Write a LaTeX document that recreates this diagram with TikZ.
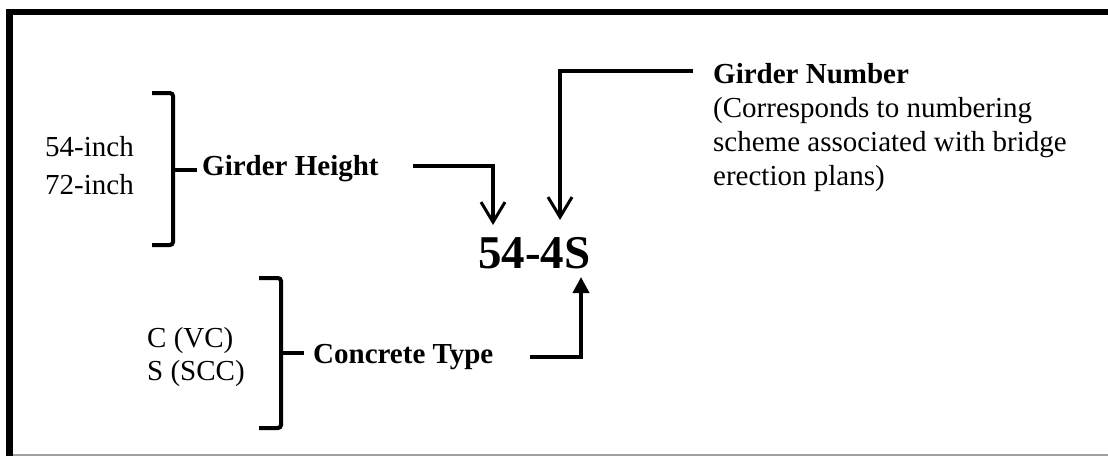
\documentclass[tikz,border=0pt]{standalone}
\usepackage{fontspec}
\setmainfont{Liberation Serif}
\usetikzlibrary{arrows.meta}
\definecolor{edgegray}{HTML}{A0A0A0}
\begin{document}
\begin{tikzpicture}[x=1pt,y=-1pt,
  txt/.style={inner sep=0pt, anchor=base west, align=left, font=\fontsize{29}{34}\selectfont},
  bigtxt/.style={inner sep=0pt, anchor=base west, font=\fontsize{47}{50}\selectfont\bfseries},
  brace/.style={line width=4pt, rounded corners=3pt, line cap=butt},
  openarrow/.style={line width=3.5pt, -{Straight Barb[length=20pt,width=24pt,line width=3pt]}},
  fillarrow/.style={line width=3.8pt, -{Triangle[length=16pt,width=16pt]}},
  frame/.style={line width=6.5pt}
]
\useasboundingbox (0,0) rectangle (1108,456);
% frame
\draw[edgegray, line width=1.6pt] (9,455) -- (1108,455);
\draw[frame] (9.5,456) -- (9.5,12) -- (1108,12);

% texts
\node[txt] (gh) at (202,175) {\bfseries Girder Height};
\node[txt, font=\fontsize{29}{38}\selectfont] (hts) at (45,194) {54-inch\\72-inch};
\node[txt] (ct) at (313,363) {\bfseries Concrete Type};
\node[txt, font=\fontsize{29}{33}\selectfont] (cts) at (147,380) {C (VC)\\S (SCC)};
\node[bigtxt] (code) at (478,268) {54-4S};
\node[txt, font=\fontsize{29}{33.7}\selectfont] (gn) at (713,185) {\textbf{Girder Number}\\(Corresponds to numbering\\scheme associated with bridge\\erection plans)};

% braces
\draw[brace] (152,93) -- (173,93) -- (173,170) -- (173,245) -- (152,245);
\draw[brace] (171,170) -- (197,170);
\draw[brace] (259,278) -- (281,278) -- (281,353) -- (281,428) -- (259,428);
\draw[brace] (279,353) -- (304,353);

% connectors
\coordinate (ghs) at (413,166);
\coordinate (ghe) at (493,225);
\coordinate (gns) at (693,71);
\coordinate (gne) at (560,220);
\coordinate (cta) at (530,357);
\coordinate (cte) at (581,277);
\draw[openarrow] (ghs) -| (ghe);
\draw[openarrow] (gns) -| (gne);
\draw[fillarrow] (cta) -| (cte);
\end{tikzpicture}
\end{document}
